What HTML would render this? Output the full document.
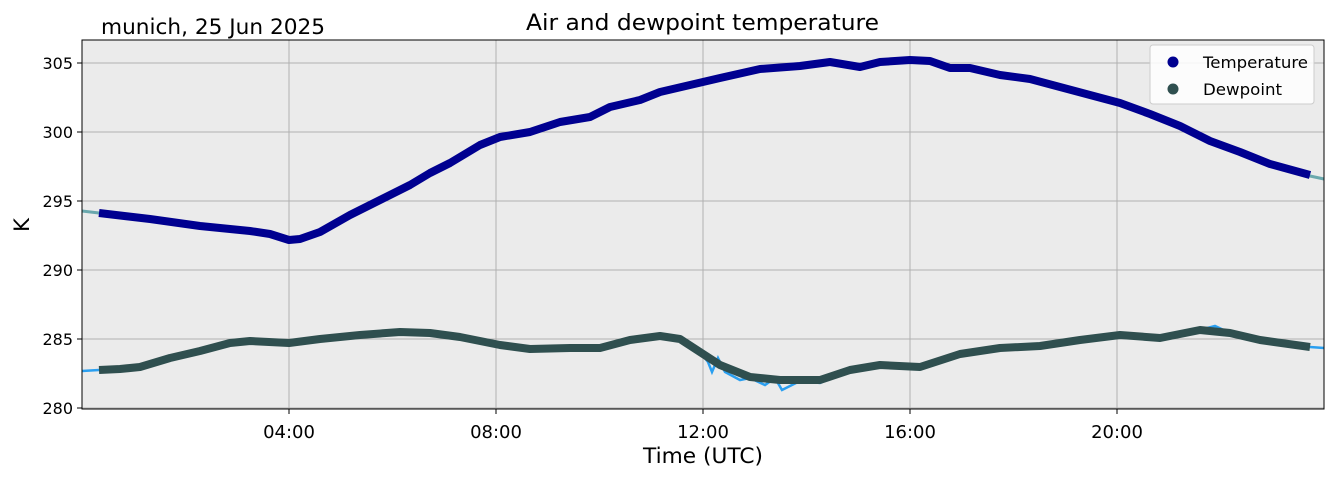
<!DOCTYPE html>
<html><head><style>body{margin:0;background:#fff}</style></head><body>
<svg width="1335" height="478" xmlns="http://www.w3.org/2000/svg" font-family="DejaVu Sans, Liberation Sans, sans-serif">
<rect x="82" y="40" width="1242" height="369" fill="#ebebeb"/>
<g stroke="#b0b0b0" stroke-width="1">
<line x1="289" y1="40" x2="289" y2="409"/><line x1="496" y1="40" x2="496" y2="409"/><line x1="703" y1="40" x2="703" y2="409"/><line x1="910" y1="40" x2="910" y2="409"/><line x1="1117" y1="40" x2="1117" y2="409"/>
<line x1="82" y1="63" x2="1324" y2="63"/><line x1="82" y1="132" x2="1324" y2="132"/><line x1="82" y1="201" x2="1324" y2="201"/><line x1="82" y1="270" x2="1324" y2="270"/><line x1="82" y1="339" x2="1324" y2="339"/><line x1="82" y1="408" x2="1324" y2="408"/>
</g>
<polyline fill="none" stroke="#6aa8ad" stroke-width="3" points="82,211 99,213 150,219 200,226 250,231 270,234 289,240 300,239 320,232 350,215 380,200 410,185 430,173 450,163 480,145 500,137 530,132 560,122 590,117 610,107 640,100 660,92 690,85 720,78 760,69 800,66 830,62 860,67 880,62 910,60 930,61 950,68 970,68 1000,75 1030,79 1060,87 1090,95 1120,103 1150,114 1180,126 1210,141 1240,152 1270,164 1310,176 1324,179"/>
<polyline fill="none" stroke="#000090" stroke-width="8" stroke-linejoin="round" points="99,213 150,219 200,226 250,231 270,234 289,240 300,239 320,232 350,215 380,200 410,185 430,173 450,163 480,145 500,137 530,132 560,122 590,117 610,107 640,100 660,92 690,85 720,78 760,69 800,66 830,62 860,67 880,62 910,60 930,61 950,68 970,68 1000,75 1030,79 1060,87 1090,95 1120,103 1150,114 1180,126 1210,141 1240,152 1270,164 1310,175"/>
<polyline fill="none" stroke="#2a9ff0" stroke-width="2.5" points="82,371 99,370 120,369 140,367 170,358 200,351 230,343 250,341 289,343 320,339 360,335 400,332 430,333 460,337 500,345 530,351 570,348 600,348 630,340 660,336 680,339 700,352 708,362 712,372 718,358 725,372 740,380 750,378 765,385 775,378 782,390 800,381 820,383 850,370 880,365 920,367 960,354 1000,348 1040,346 1080,340 1120,333 1160,338 1200,330 1215,326 1230,333 1260,340 1310,347 1324,348"/>
<polyline fill="none" stroke="#2f4f4f" stroke-width="8" stroke-linejoin="round" points="99,370 120,369 140,367 170,358 200,351 230,343 250,341 289,343 320,339 360,335 400,332 430,333 460,337 500,345 530,349 570,348 600,348 630,340 660,336 680,339 700,352 720,365 750,377 780,380 820,380 850,370 880,365 920,367 960,354 1000,348 1040,346 1080,340 1120,335 1160,338 1200,330 1230,333 1260,340 1310,347"/>
<rect x="82" y="40" width="1242" height="369" fill="none" stroke="#000" stroke-width="1"/>
<g stroke="#000"><line x1="77" y1="63" x2="82" y2="63"/><line x1="77" y1="132" x2="82" y2="132"/><line x1="77" y1="201" x2="82" y2="201"/><line x1="77" y1="270" x2="82" y2="270"/><line x1="77" y1="339" x2="82" y2="339"/><line x1="77" y1="408" x2="82" y2="408"/>
<line x1="289" y1="409" x2="289" y2="414"/><line x1="496" y1="409" x2="496" y2="414"/><line x1="703" y1="409" x2="703" y2="414"/><line x1="910" y1="409" x2="910" y2="414"/><line x1="1117" y1="409" x2="1117" y2="414"/></g>
<g font-size="16" text-anchor="end" fill="#000"><text x="73" y="69">305</text><text x="73" y="138">300</text><text x="73" y="207">295</text><text x="73" y="276">290</text><text x="73" y="345">285</text><text x="73" y="414">280</text></g>
<g font-size="18" text-anchor="middle" fill="#000"><text x="289" y="438">04:00</text><text x="496" y="438">08:00</text><text x="703" y="438">12:00</text><text x="910" y="438">16:00</text><text x="1117" y="438">20:00</text></g>
<text x="643" y="463" font-size="21" textLength="120" lengthAdjust="spacingAndGlyphs">Time (UTC)</text>
<text x="29" y="225" font-size="21" text-anchor="middle" transform="rotate(-90 29 225)">K</text>
<text x="526" y="30" font-size="22" textLength="353" lengthAdjust="spacingAndGlyphs">Air and dewpoint temperature</text>
<text x="101" y="34" font-size="21" textLength="224" lengthAdjust="spacingAndGlyphs">munich, 25 Jun 2025</text>
<rect x="1150" y="45" width="164" height="59" fill="#fff" fill-opacity="0.85" stroke="#ccc" rx="3"/>
<circle cx="1173" cy="62" r="5.5" fill="#000090"/><circle cx="1173" cy="89" r="5.5" fill="#2f4f4f"/>
<text x="1203" y="68" font-size="16" textLength="105" lengthAdjust="spacingAndGlyphs">Temperature</text><text x="1203" y="95" font-size="16" textLength="79" lengthAdjust="spacingAndGlyphs">Dewpoint</text>
</svg>
</body></html>
